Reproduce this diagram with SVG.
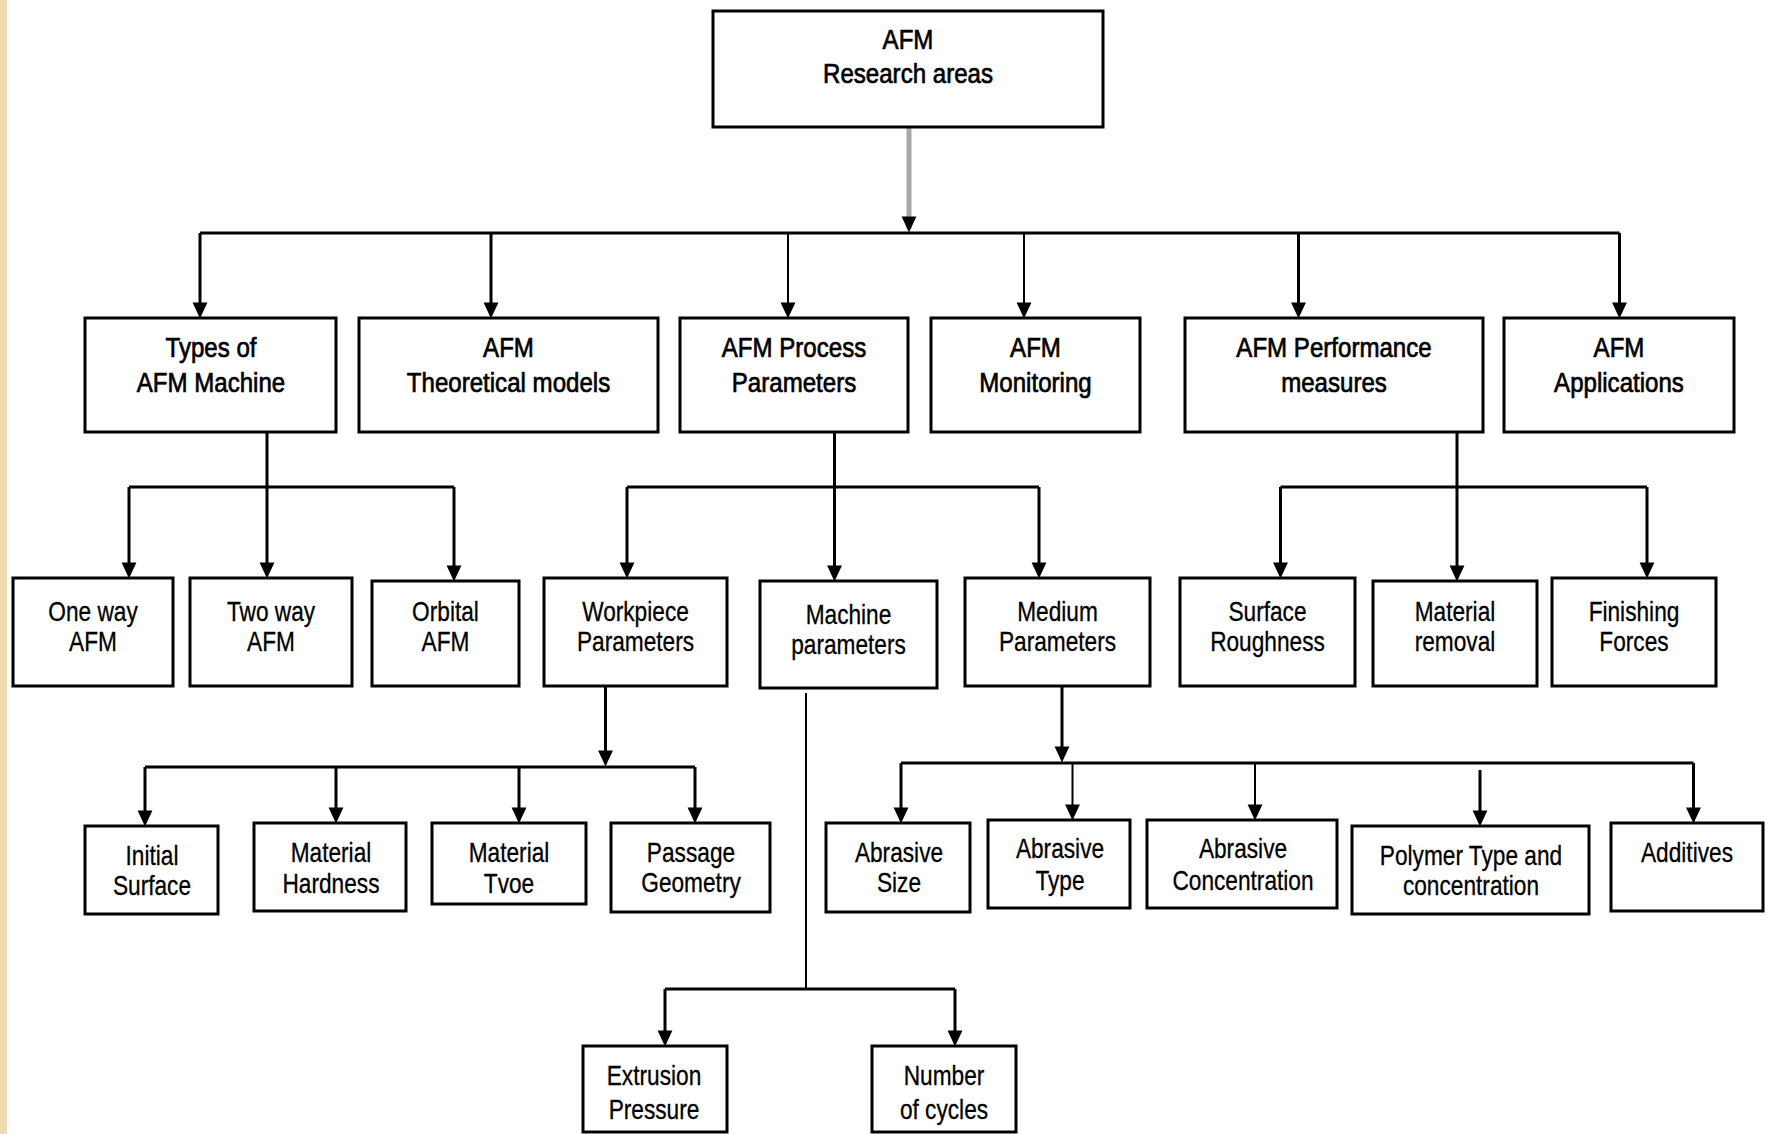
<svg xmlns="http://www.w3.org/2000/svg" width="1767" height="1134" viewBox="0 0 1767 1134">
<style>
  .box { fill: #ffffff; stroke: #000000; stroke-width: 3; }
  .ln { fill: none; stroke: #000000; stroke-width: 3; }
  .thin { stroke-width: 2; }
  .gray { stroke: #a8a8a8; stroke-width: 5; }
  .arr { marker-end: url(#ah); }
  text { font-family: "Liberation Sans", Arial, sans-serif; font-size: 28px; fill: #000000; text-anchor: middle;
         transform-box: fill-box; transform-origin: center; }
  .t1 { transform: scaleX(0.86); stroke: #000000; stroke-width: 0.7px; }
  .t2 { transform: scaleX(0.81); stroke: #000000; stroke-width: 0.3px; }
</style>
<defs>
  <marker id="ah" markerUnits="userSpaceOnUse" markerWidth="16" markerHeight="16" refX="11" refY="6.5" orient="auto" viewBox="0 0 14 13">
    <path d="M0,0 L14,6.5 L0,13 z" fill="#000000"/>
  </marker>
</defs>
<rect x="0" y="0" width="1767" height="1134" fill="#ffffff"/>
<rect x="0" y="0" width="7" height="1134" fill="#efdcae"/>

<g id="connectors">
  <line class="ln gray arr" x1="909" y1="127" x2="909" y2="229"/>
  <line class="ln" x1="200" y1="233" x2="1619.5" y2="233"/>
  <line class="ln arr" x1="200" y1="233" x2="200" y2="315"/>
  <line class="ln arr" x1="491" y1="233" x2="491" y2="315"/>
  <line class="ln thin arr" x1="788" y1="233" x2="788" y2="315"/>
  <line class="ln thin arr" x1="1024" y1="233" x2="1024" y2="315"/>
  <line class="ln arr" x1="1298.5" y1="233" x2="1298.5" y2="315"/>
  <line class="ln arr" x1="1619.5" y1="233" x2="1619.5" y2="315"/>

  <line class="ln" x1="267" y1="432" x2="267" y2="487"/>
  <line class="ln" x1="129" y1="487" x2="454" y2="487"/>
  <line class="ln arr" x1="129" y1="487" x2="129" y2="575"/>
  <line class="ln arr" x1="267" y1="487" x2="267" y2="575"/>
  <line class="ln arr" x1="454" y1="487" x2="454" y2="578"/>

  <line class="ln" x1="834.5" y1="432" x2="834.5" y2="487"/>
  <line class="ln" x1="627" y1="487" x2="1039" y2="487"/>
  <line class="ln arr" x1="627" y1="487" x2="627" y2="575"/>
  <line class="ln arr" x1="834.5" y1="487" x2="834.5" y2="578"/>
  <line class="ln arr" x1="1039" y1="487" x2="1039" y2="575"/>

  <line class="ln" x1="1457" y1="432" x2="1457" y2="487"/>
  <line class="ln" x1="1280.5" y1="487" x2="1647" y2="487"/>
  <line class="ln arr" x1="1280.5" y1="487" x2="1280.5" y2="575"/>
  <line class="ln arr" x1="1457" y1="487" x2="1457" y2="578"/>
  <line class="ln arr" x1="1647" y1="487" x2="1647" y2="575"/>

  <line class="ln arr" x1="605.5" y1="686" x2="605.5" y2="763"/>
  <line class="ln" x1="145" y1="767" x2="695" y2="767"/>
  <line class="ln arr" x1="145" y1="767" x2="145" y2="823"/>
  <line class="ln arr" x1="336" y1="767" x2="336" y2="820"/>
  <line class="ln arr" x1="519" y1="767" x2="519" y2="820"/>
  <line class="ln arr" x1="695" y1="767" x2="695" y2="820"/>

  <line class="ln thin" x1="806" y1="693" x2="806" y2="989"/>
  <line class="ln" x1="665" y1="989" x2="955" y2="989"/>
  <line class="ln arr" x1="665" y1="989" x2="665" y2="1043"/>
  <line class="ln arr" x1="955" y1="989" x2="955" y2="1043"/>

  <line class="ln arr" x1="1062" y1="686" x2="1062" y2="759"/>
  <line class="ln" x1="901" y1="763" x2="1693.5" y2="763"/>
  <line class="ln arr" x1="901" y1="763" x2="901" y2="820"/>
  <line class="ln thin arr" x1="1072.5" y1="763" x2="1072.5" y2="817"/>
  <line class="ln thin arr" x1="1255" y1="763" x2="1255" y2="817"/>
  <line class="ln arr" x1="1480" y1="770" x2="1480" y2="823"/>
  <line class="ln arr" x1="1693.5" y1="763" x2="1693.5" y2="820"/>
</g>

<g id="root"><rect class="box" x="713" y="11" width="390" height="116"/>
  <text class="t1" x="908" y="49">AFM</text><text class="t1" x="908" y="83">Research areas</text></g>

<g id="types"><rect class="box" x="85" y="318" width="251" height="114"/>
  <text class="t1" x="211" y="357">Types of</text><text class="t1" x="211" y="392">AFM Machine</text></g>
<g id="theoretical"><rect class="box" x="359" y="318" width="299" height="114"/>
  <text class="t1" x="508.5" y="357">AFM</text><text class="t1" x="508.5" y="392">Theoretical models</text></g>
<g id="process"><rect class="box" x="680" y="318" width="228" height="114"/>
  <text class="t1" x="794" y="357">AFM Process</text><text class="t1" x="794" y="392">Parameters</text></g>
<g id="monitoring"><rect class="box" x="931" y="318" width="209" height="114"/>
  <text class="t1" x="1035.5" y="357">AFM</text><text class="t1" x="1035.5" y="392">Monitoring</text></g>
<g id="performance"><rect class="box" x="1185" y="318" width="298" height="114"/>
  <text class="t1" x="1334" y="357">AFM Performance</text><text class="t1" x="1334" y="392">measures</text></g>
<g id="applications"><rect class="box" x="1504" y="318" width="230" height="114"/>
  <text class="t1" x="1619" y="357">AFM</text><text class="t1" x="1619" y="392">Applications</text></g>

<g id="oneway"><rect class="box" x="13" y="578" width="160" height="108"/>
  <text class="t2" x="93" y="621">One way</text><text class="t2" x="93" y="651">AFM</text></g>
<g id="twoway"><rect class="box" x="190" y="578" width="162" height="108"/>
  <text class="t2" x="271" y="621">Two way</text><text class="t2" x="271" y="651">AFM</text></g>
<g id="orbital"><rect class="box" x="372" y="581" width="147" height="105"/>
  <text class="t2" x="445.5" y="621">Orbital</text><text class="t2" x="445.5" y="651">AFM</text></g>
<g id="workpiece"><rect class="box" x="544" y="578" width="183" height="108"/>
  <text class="t2" x="635.5" y="621">Workpiece</text><text class="t2" x="635.5" y="651">Parameters</text></g>
<g id="machine"><rect class="box" x="760" y="581" width="177" height="107"/>
  <text class="t2" x="848.5" y="624">Machine</text><text class="t2" x="848.5" y="654">parameters</text></g>
<g id="medium"><rect class="box" x="965" y="578" width="185" height="108"/>
  <text class="t2" x="1057.5" y="621">Medium</text><text class="t2" x="1057.5" y="651">Parameters</text></g>
<g id="surface"><rect class="box" x="1180" y="578" width="175" height="108"/>
  <text class="t2" x="1267.5" y="621">Surface</text><text class="t2" x="1267.5" y="651">Roughness</text></g>
<g id="removal"><rect class="box" x="1373" y="581" width="164" height="105"/>
  <text class="t2" x="1455" y="621">Material</text><text class="t2" x="1455" y="651">removal</text></g>
<g id="forces"><rect class="box" x="1552" y="578" width="164" height="108"/>
  <text class="t2" x="1634" y="621">Finishing</text><text class="t2" x="1634" y="651">Forces</text></g>

<g id="initial"><rect class="box" x="85" y="826" width="133" height="88"/>
  <text class="t2" x="152" y="865">Initial</text><text class="t2" x="152" y="895">Surface</text></g>
<g id="hardness"><rect class="box" x="254" y="823" width="152" height="88"/>
  <text class="t2" x="331" y="862">Material</text><text class="t2" x="331" y="893">Hardness</text></g>
<g id="mattype"><rect class="box" x="432" y="823" width="154" height="81"/>
  <text class="t2" x="509" y="862">Material</text><text class="t2" x="509" y="893">Tvoe</text></g>
<g id="passage"><rect class="box" x="611" y="823" width="159" height="89"/>
  <text class="t2" x="691" y="862">Passage</text><text class="t2" x="691" y="892">Geometry</text></g>
<g id="abrsize"><rect class="box" x="826" y="823" width="144" height="89"/>
  <text class="t2" x="899" y="862">Abrasive</text><text class="t2" x="899" y="892">Size</text></g>
<g id="abrtype"><rect class="box" x="988" y="820" width="142" height="88"/>
  <text class="t2" x="1060" y="858">Abrasive</text><text class="t2" x="1060" y="890">Type</text></g>
<g id="abrconc"><rect class="box" x="1147" y="820" width="190" height="88"/>
  <text class="t2" x="1243" y="858">Abrasive</text><text class="t2" x="1243" y="890">Concentration</text></g>
<g id="polymer"><rect class="box" x="1352" y="826" width="237" height="88"/>
  <text class="t2" x="1471" y="865">Polymer Type and</text><text class="t2" x="1471" y="895">concentration</text></g>
<g id="additives"><rect class="box" x="1611" y="823" width="152" height="88"/>
  <text class="t2" x="1687" y="862">Additives</text></g>

<g id="extrusion"><rect class="box" x="583" y="1046" width="144" height="86"/>
  <text class="t2" x="654" y="1085">Extrusion</text><text class="t2" x="654" y="1119">Pressure</text></g>
<g id="cycles"><rect class="box" x="872" y="1046" width="144" height="86"/>
  <text class="t2" x="944" y="1085">Number</text><text class="t2" x="944" y="1119">of cycles</text></g>
</svg>
